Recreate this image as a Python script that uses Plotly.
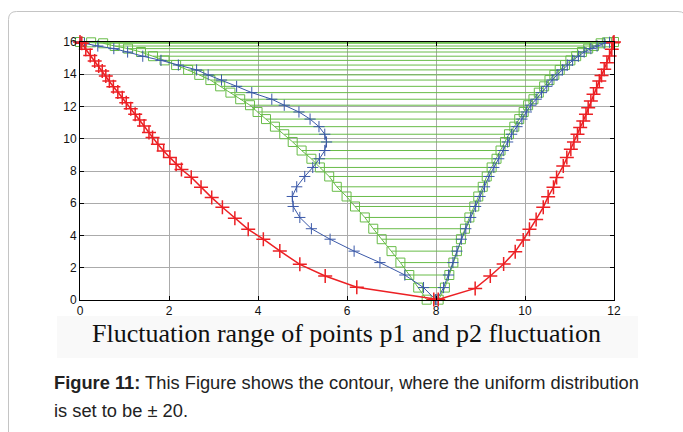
import plotly.graph_objects as go

# ---------------- data ----------------
x_ticks = [0, 2, 4, 6, 8, 10, 12]
y_ticks = [0, 2, 4, 6, 8, 10, 12, 14, 16]

# shared levels for the green (square) and blue (+) contours
green_y = [16.0, 15.98, 15.92, 15.75, 15.59, 15.38, 15.12, 14.86, 14.57, 14.27,
           13.96, 13.64, 13.25, 12.86, 12.45, 12.08, 11.66, 11.22, 10.75, 10.28,
           9.8, 9.27, 8.76, 8.22, 7.66, 7.02, 6.42, 5.8, 5.12, 4.42,
           3.77, 3.03, 2.32, 1.55, 0.77, 0.02]
green_left_x = [0.0, 0.25, 0.52, 0.78, 1.08, 1.37, 1.64, 1.9, 2.16, 2.43,
                2.68, 2.93, 3.15, 3.38, 3.6, 3.82, 3.99, 4.18, 4.38, 4.59,
                4.78, 4.98, 5.2, 5.39, 5.6, 5.77, 5.99, 6.18, 6.4, 6.59,
                6.78, 7.0, 7.2, 7.4, 7.6, 7.79]
green_right_x = [12.0, 11.84, 11.7, 11.55, 11.42, 11.28, 11.15, 11.02, 10.9, 10.78,
                 10.66, 10.55, 10.43, 10.31, 10.19, 10.07, 9.97, 9.87, 9.76, 9.64,
                 9.55, 9.45, 9.36, 9.25, 9.14, 9.05, 8.95, 8.86, 8.75, 8.65,
                 8.56, 8.47, 8.39, 8.3, 8.2, 8.06]
blue_left_x = [0.0, 0.02, 0.1, 0.4, 0.76, 1.07, 1.41, 1.82, 2.21, 2.62,
               2.88, 3.18, 3.52, 3.86, 4.31, 4.59, 4.92, 5.17, 5.37, 5.5,
               5.54, 5.5, 5.38, 5.23, 5.05, 4.87, 4.77, 4.79, 4.94, 5.2,
               5.62, 6.16, 6.74, 7.3, 7.72, 7.99]
blue_right_x = [12.0, 11.9, 11.78, 11.62, 11.48, 11.33, 11.2, 11.07, 10.95, 10.84,
                10.72, 10.61, 10.49, 10.37, 10.25, 10.13, 10.03, 9.93, 9.82, 9.7,
                9.61, 9.51, 9.41, 9.3, 9.19, 9.09, 8.99, 8.89, 8.78, 8.67,
                8.57, 8.47, 8.38, 8.28, 8.17, 8.02]

# red (+) outer contour
red_left_y = [16.0, 15.92, 15.55, 15.17, 14.82, 14.51, 14.2, 13.89, 13.58, 13.23,
              12.9, 12.55, 12.24, 11.86, 11.52, 11.16, 10.79, 10.38, 10.07, 9.66,
              9.24, 8.83, 8.42, 8.1, 7.61, 6.99, 6.35, 5.75, 5.07, 4.38,
              3.77, 3.04, 2.21, 1.49, 0.79, 0.03]
red_left_x = [0.0, 0.04, 0.13, 0.23, 0.33, 0.42, 0.5, 0.58, 0.66, 0.75,
              0.85, 0.95, 1.04, 1.14, 1.24, 1.34, 1.44, 1.55, 1.63, 1.75,
              1.88, 2.02, 2.16, 2.28, 2.5, 2.72, 2.96, 3.2, 3.48, 3.78,
              4.12, 4.49, 4.94, 5.51, 6.22, 7.95]
red_right_y = [16.0, 15.96, 15.55, 15.13, 14.72, 14.31, 13.93, 13.58, 13.17, 12.76,
               12.34, 11.93, 11.52, 11.1, 10.69, 10.28, 9.8, 9.35, 8.83, 8.31,
               7.6, 6.99, 6.41, 5.75, 5.0, 4.38, 3.72, 3.0, 2.23, 1.49,
               0.72, 0.03]
red_right_x = [12.0, 11.98, 11.95, 11.9, 11.84, 11.78, 11.72, 11.67, 11.61, 11.54,
               11.48, 11.42, 11.37, 11.31, 11.24, 11.18, 11.1, 11.03, 10.94, 10.86,
               10.71, 10.64, 10.52, 10.41, 10.25, 10.1, 9.96, 9.78, 9.52, 9.22,
               8.88, 8.05]

title_text = "Fluctuation range of points p1 and p2 fluctuation"
caption_1 = "<b>Figure 11:</b> This Figure shows the contour, where the uniform distribution"
caption_2 = "is set to be ± 20."

# ---------------- styling ----------------
RED = "rgb(236,32,36)"
BLUE = "rgb(58,88,168)"
GREEN = "rgb(104,188,72)"

W, H = 683, 432
ML, MR, MT, MB = 80, 69, 42, 132
PW, PH = W - ML - MR, H - MT - MB


def fx(p):
    return (p - ML) / PW


def fy(p):
    return (H - MB - p) / PH


fig = go.Figure()

# green horizontal spans between both branches
hx, hy = [], []
for yl, xl, xr in zip(green_y, green_left_x, green_right_x):
    hx += [xl, xr, None]
    hy += [yl, yl, None]
fig.add_trace(go.Scatter(x=hx, y=hy, mode="lines",
                         line=dict(color=GREEN, width=1), hoverinfo="skip",
                         cliponaxis=False))

# green contour with squares
fig.add_trace(go.Scatter(
    x=green_left_x + green_right_x[::-1], y=green_y + green_y[::-1],
    mode="lines+markers", line=dict(color=GREEN, width=1),
    marker=dict(symbol="square-open", size=9, color=GREEN, line=dict(width=1, color=GREEN)),
    cliponaxis=False))

# blue contour
fig.add_trace(go.Scatter(
    x=blue_left_x + blue_right_x[::-1], y=green_y + green_y[::-1],
    mode="lines+markers", line=dict(color=BLUE, width=1),
    marker=dict(symbol="cross-thin", size=8, color=BLUE, line=dict(width=1, color=BLUE)),
    cliponaxis=False))

# red contour
fig.add_trace(go.Scatter(
    x=red_left_x + red_right_x[::-1], y=red_left_y + red_right_y[::-1],
    mode="lines+markers", line=dict(color=RED, width=1.5),
    marker=dict(symbol="cross-thin", size=10, color=RED, line=dict(width=1.5, color=RED)),
    cliponaxis=False))

axis_common = dict(showgrid=True, gridcolor="#ababab", gridwidth=1,
                   showline=True, linecolor="black", linewidth=1, mirror="ticks",
                   ticks="inside", ticklen=4, tickcolor="black", zeroline=False,
                   tickfont=dict(family="Liberation Sans, Arial, sans-serif", size=12, color="#111"))

fig.update_xaxes(range=[0, 12], tickvals=x_ticks, **axis_common)
fig.update_yaxes(range=[0, 16], tickvals=y_ticks, **axis_common)

# outer rounded frame
r = 8
x0, x1, y0, y1 = 8.5, 686, 11.5, 445
path = (f"M {fx(x0)},{fy(y1)} L {fx(x0)},{fy(y0 + r)} "
        f"Q {fx(x0)},{fy(y0)} {fx(x0 + r)},{fy(y0)} "
        f"L {fx(x1 - r)},{fy(y0)} Q {fx(x1)},{fy(y0)} {fx(x1)},{fy(y0 + r)} "
        f"L {fx(x1)},{fy(y1)}")
fig.add_shape(type="path", path=path, xref="paper", yref="paper",
              line=dict(color="#c4c4c4", width=1), layer="below")

# faint background behind title
fig.add_shape(type="rect", xref="paper", yref="paper",
              x0=fx(57), x1=fx(638), y0=fy(358), y1=fy(316),
              fillcolor="#f9f9f9", line=dict(width=0), layer="below")

fig.add_annotation(x=fx(346.5), y=fy(333), xref="paper", yref="paper",
                   text=title_text, showarrow=False, xanchor="center", yanchor="middle",
                   font=dict(family="Liberation Serif, Times New Roman, serif", size=26, color="#111"))
fig.add_annotation(x=fx(52), y=fy(382), xref="paper", yref="paper",
                   text=caption_1, showarrow=False, xanchor="left", yanchor="middle",
                   font=dict(family="Liberation Sans, Arial, sans-serif", size=18.3, color="#222"))
fig.add_annotation(x=fx(52), y=fy(411), xref="paper", yref="paper",
                   text=caption_2, showarrow=False, xanchor="left", yanchor="middle",
                   font=dict(family="Liberation Sans, Arial, sans-serif", size=18.3, color="#222"))

fig.update_layout(width=W, height=H, margin=dict(l=ML, r=MR, t=MT, b=MB),
                  plot_bgcolor="white", paper_bgcolor="white", showlegend=False)

fig.write_html("out.html")
